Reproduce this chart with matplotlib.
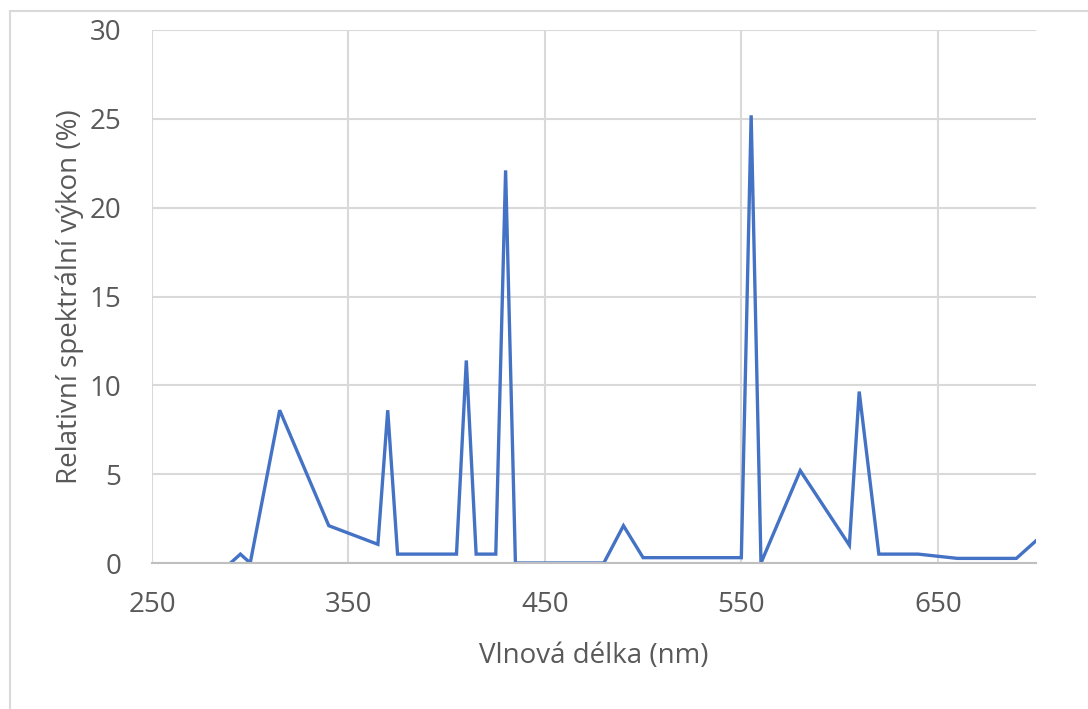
import matplotlib.pyplot as plt
from matplotlib.patches import Rectangle

plt.rcParams['font.family'] = ['Open Sans', 'DejaVu Sans']

wavelength = [290, 295, 300, 315, 340, 365, 370, 375, 405, 410, 415, 425, 430, 435,
              480, 490, 500, 550, 555, 560, 580, 605, 610, 620, 640, 660, 690, 700]
power = [0, 0.5, 0, 8.6, 2.1, 1.05, 8.6, 0.5, 0.5, 11.4, 0.5, 0.5, 22.1, 0,
         0, 2.1, 0.3, 0.3, 25.2, 0, 5.2, 1.0, 9.65, 0.5, 0.5, 0.26, 0.26, 1.25]

xticks = [250, 350, 450, 550, 650]
yticks = [0, 5, 10, 15, 20, 25, 30]

W, H = 1088, 709
fig = plt.figure(figsize=(W / 100, H / 100), dpi=100)
ax = fig.add_axes([152 / W, 1 - 563 / H, (1036 - 152) / W, (563 - 30) / H])

# outer chart border (only left and top visible in the picture)
fig.patches.append(Rectangle((10 / W, -0.1), 1.2, 1 - 11 / H + 0.1, transform=fig.transFigure,
                             fill=False, edgecolor='#D9D9D9', linewidth=1.5))

ax.plot(wavelength, power, color='#4472C4', linewidth=2.4, solid_joinstyle='miter')

ax.set_xlim(250, 700)
ax.set_ylim(0, 30)
ax.set_xticks(xticks)
ax.set_yticks(yticks)
ax.grid(True, color='#D9D9D9', linewidth=1.5)
ax.set_axisbelow(True)
for s in ['top', 'right', 'left']:
    ax.spines[s].set_visible(False)
ax.spines['bottom'].set_color('#BFBFBF')
ax.spines['bottom'].set_linewidth(1.5)
ax.tick_params(length=0, labelsize=20, colors='#595959')
ax.tick_params(axis='y', pad=22)
ax.tick_params(axis='x', pad=20)

ax.set_xlabel('Vlnová délka (nm)', fontsize=20, color='#595959', labelpad=17)
ax.set_ylabel('Relativní spektrální výkon (%)', fontsize=20, color='#595959', labelpad=4)

fig.savefig('out.png', dpi=100)
